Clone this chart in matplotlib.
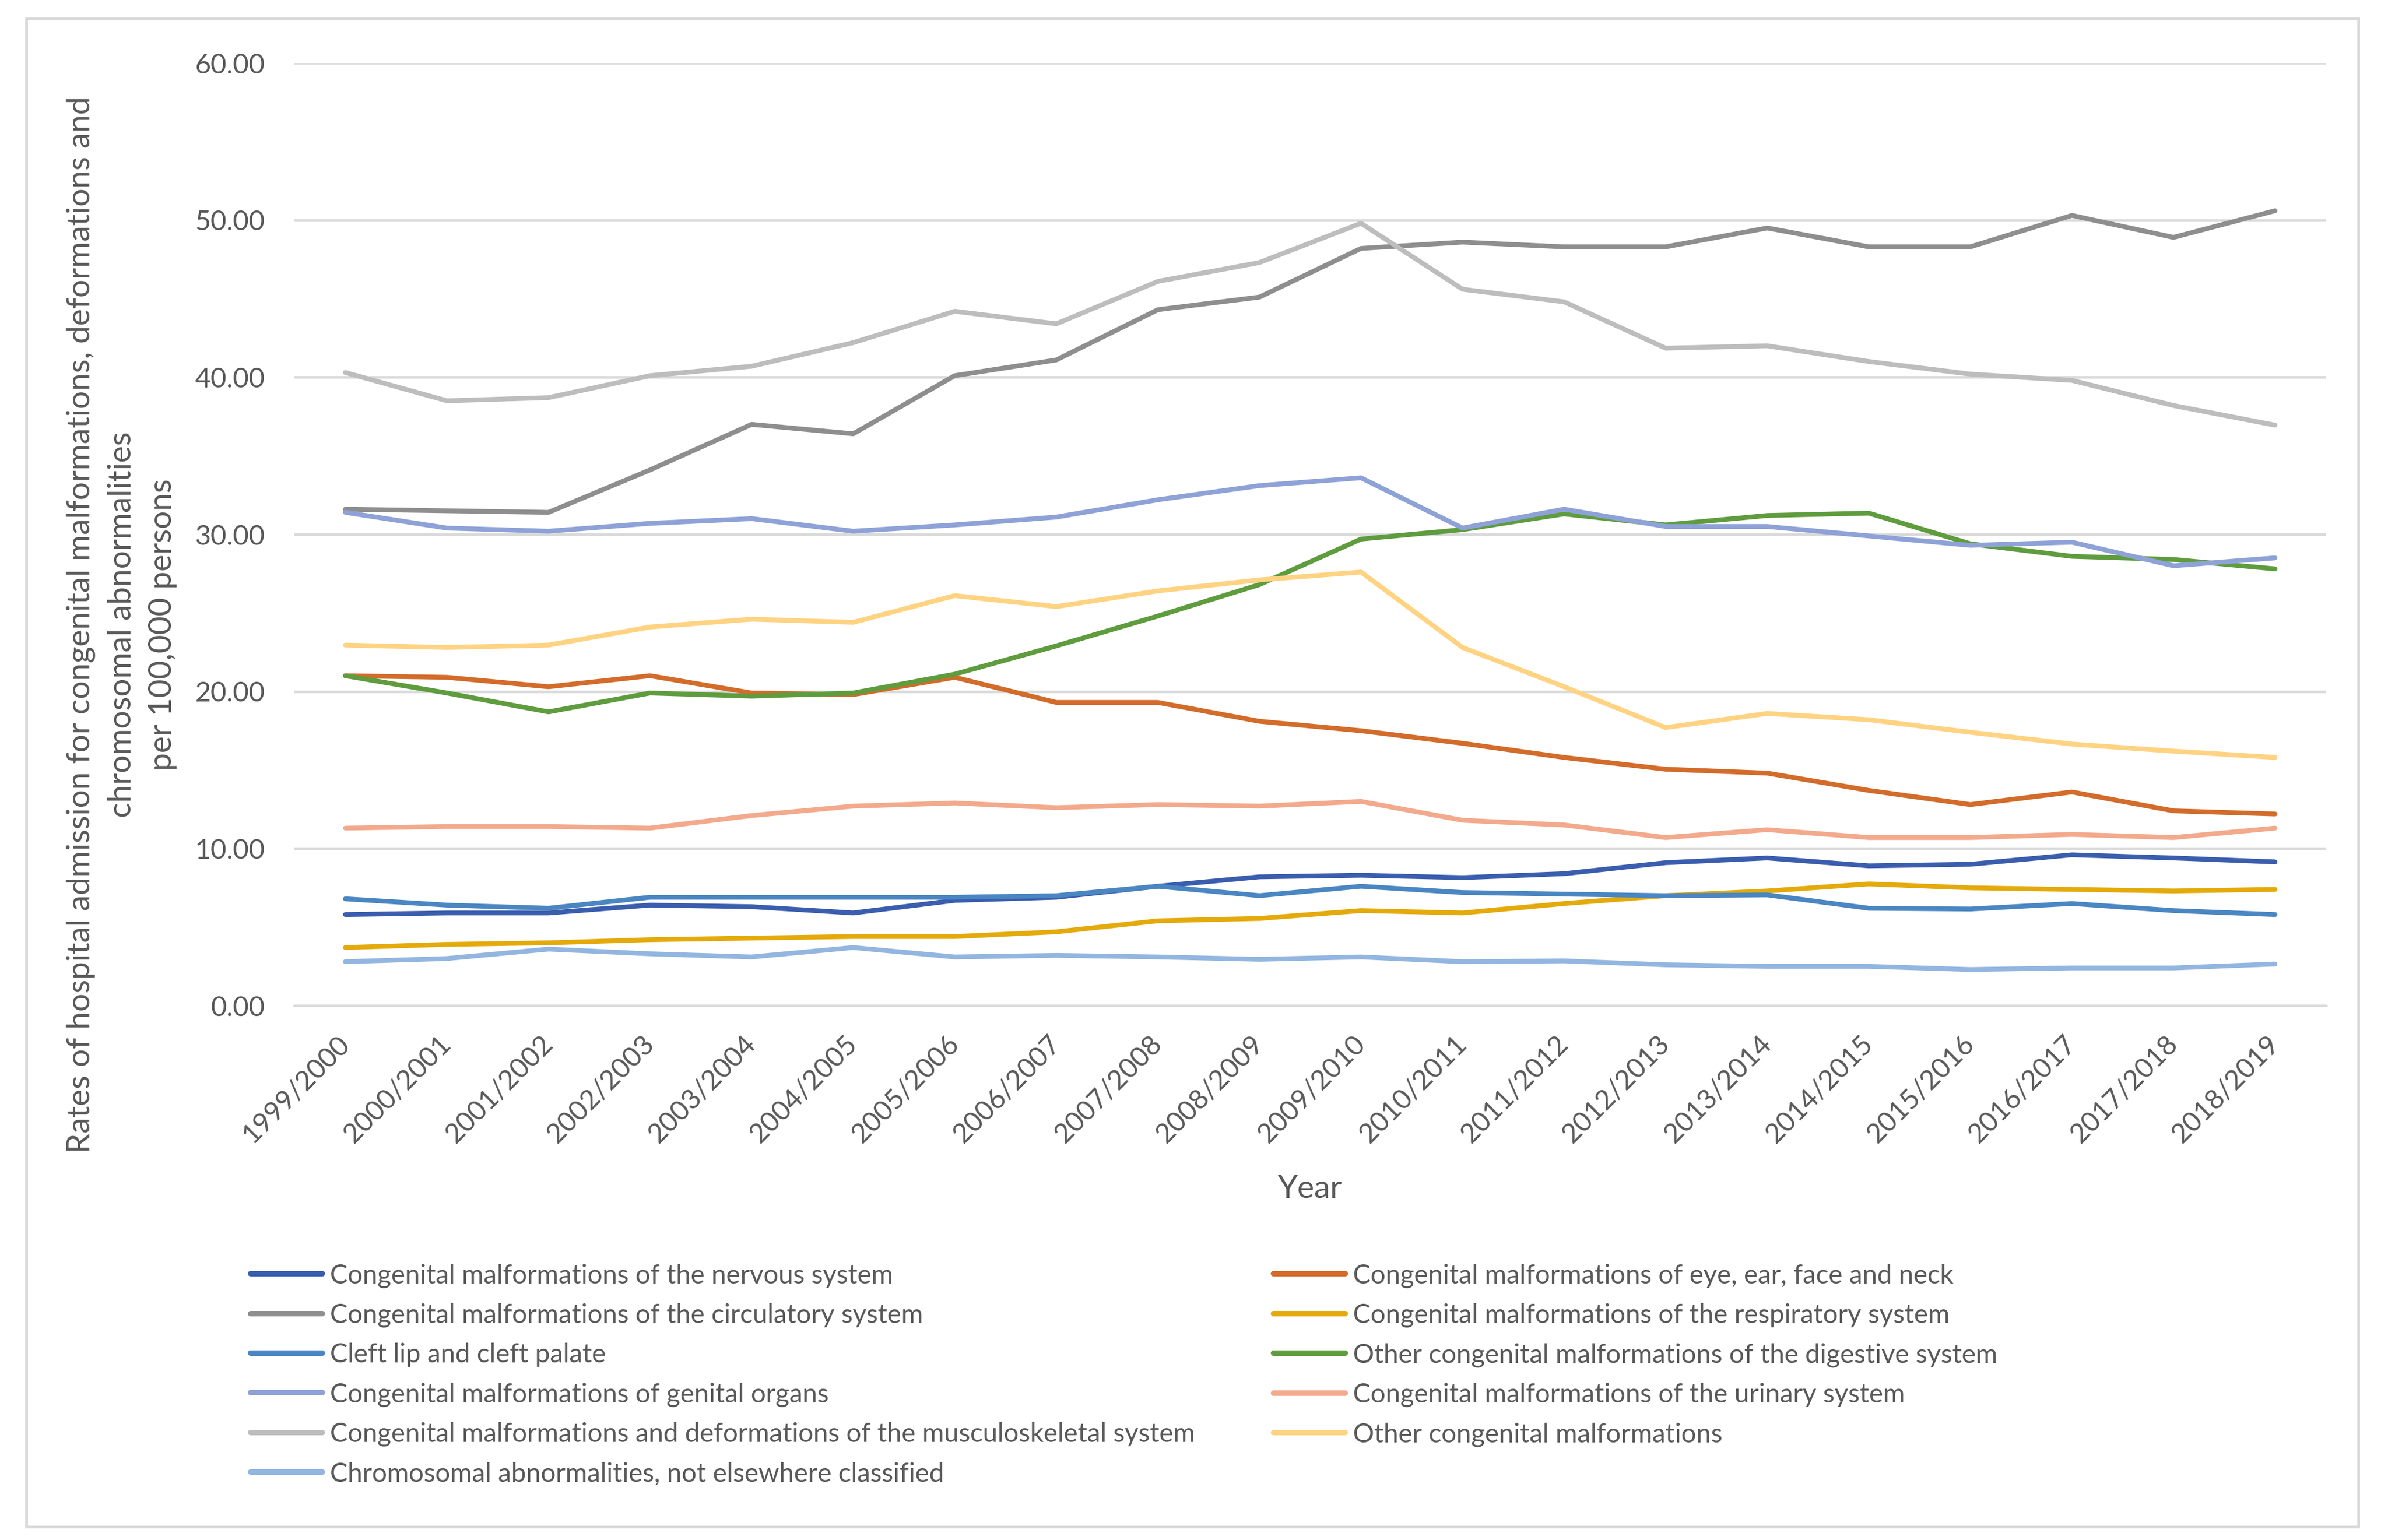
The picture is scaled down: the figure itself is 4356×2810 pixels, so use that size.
import matplotlib
matplotlib.use("Agg")
import matplotlib.pyplot as plt
from matplotlib.patches import Rectangle

plt.rcParams['font.family'] = ['Lato', 'DejaVu Sans']

# anos (eje x)
years = ['1999/2000', '2000/2001', '2001/2002', '2002/2003', '2003/2004',
         '2004/2005', '2005/2006', '2006/2007', '2007/2008', '2008/2009',
         '2009/2010', '2010/2011', '2011/2012', '2012/2013', '2013/2014',
         '2014/2015', '2015/2016', '2016/2017', '2017/2018', '2018/2019']

# tasas por 100.000 personas
nervous = [5.8, 5.9, 5.9, 6.4, 6.3, 5.9, 6.7, 6.9, 7.6, 8.2,
           8.3, 8.15, 8.4, 9.1, 9.4, 8.9, 9.0, 9.6, 9.4, 9.15]
eye = [21.0, 20.9, 20.3, 21.0, 19.9, 19.8, 20.9, 19.3, 19.3, 18.1,
       17.5, 16.7, 15.8, 15.05, 14.8, 13.7, 12.8, 13.6, 12.4, 12.2]
circulatory = [31.6, 31.5, 31.4, 34.1, 37.0, 36.4, 40.1, 41.1, 44.3, 45.1,
               48.2, 48.6, 48.3, 48.3, 49.5, 48.3, 48.3, 50.3, 48.9, 50.6]
respiratory = [3.7, 3.9, 4.0, 4.2, 4.3, 4.4, 4.4, 4.7, 5.4, 5.55,
               6.05, 5.9, 6.5, 7.0, 7.3, 7.75, 7.5, 7.4, 7.3, 7.4]
cleft = [6.8, 6.4, 6.2, 6.9, 6.9, 6.9, 6.9, 7.0, 7.6, 7.0,
         7.6, 7.2, 7.1, 7.0, 7.05, 6.2, 6.15, 6.5, 6.05, 5.8]
digestive = [21.0, 19.9, 18.7, 19.9, 19.7, 19.9, 21.1, 22.9, 24.8, 26.8,
             29.7, 30.3, 31.3, 30.6, 31.2, 31.35, 29.4, 28.6, 28.4, 27.8]
genital = [31.4, 30.4, 30.2, 30.7, 31.0, 30.2, 30.6, 31.1, 32.2, 33.1,
           33.6, 30.4, 31.6, 30.5, 30.5, 29.9, 29.3, 29.5, 28.0, 28.5]
urinary = [11.3, 11.4, 11.4, 11.3, 12.1, 12.7, 12.9, 12.6, 12.8, 12.7,
           13.0, 11.8, 11.5, 10.7, 11.2, 10.7, 10.7, 10.9, 10.7, 11.3]
musculo = [40.3, 38.5, 38.7, 40.1, 40.7, 42.2, 44.2, 43.4, 46.1, 47.3,
           49.8, 45.6, 44.8, 41.85, 42.0, 41.0, 40.2, 39.8, 38.2, 36.95]
other = [22.95, 22.8, 22.95, 24.1, 24.6, 24.4, 26.1, 25.4, 26.4, 27.1,
         27.6, 22.8, 20.3, 17.7, 18.6, 18.2, 17.4, 16.65, 16.2, 15.8]
chromosomal = [2.8, 3.0, 3.6, 3.3, 3.1, 3.7, 3.1, 3.2, 3.1, 2.95,
               3.1, 2.8, 2.85, 2.6, 2.5, 2.5, 2.3, 2.4, 2.4, 2.65]

labels = ['Congenital malformations of the nervous system',
          'Congenital malformations of eye, ear, face and neck',
          'Congenital malformations of the circulatory system',
          'Congenital malformations of the respiratory system',
          'Cleft lip and cleft palate',
          'Other congenital malformations of the digestive system',
          'Congenital malformations of genital organs',
          'Congenital malformations of the urinary system',
          'Congenital malformations and deformations of the musculoskeletal system',
          'Other congenital malformations',
          'Chromosomal abnormalities, not elsewhere classified']

series = [nervous, eye, circulatory, respiratory, cleft, digestive,
          genital, urinary, musculo, other, chromosomal]

colores = ['#3A5DAE', '#D36B2A', '#8E8E8E', '#E4AA0A', '#4A86C2', '#5E9C3E',
           '#8EA2D8', '#F3A98C', '#BDBDBD', '#FFD382', '#92B6E0']

txt_color = '#595959'
grid_color = '#D9D9D9'
fs = 12        # ticks
fs_leg = 11.6  # leyenda
fs_tit = 14    # titulos de ejes

W, H = 4356, 2810
fig = plt.figure(figsize=(W / 300, H / 300), dpi=300)

# marco exterior
fig.patches.append(Rectangle((48 / W, 1 - 2786 / H), (4302 - 48) / W, (2786 - 34) / H,
                             transform=fig.transFigure, fill=False,
                             edgecolor=grid_color, linewidth=1.2))

ax = fig.add_axes([537.4 / W, 1 - 1835 / H, 3705.2 / W, (1835 - 115) / H])

x = list(range(len(years)))
lineas = []
for s, c, lab in zip(series, colores, labels):
    ln, = ax.plot(x, s, color=c, lw=2.1, label=lab,
                  solid_capstyle='round', solid_joinstyle='round')
    lineas.append(ln)

ax.set_xlim(-0.5, len(years) - 0.5)
ax.set_ylim(0, 60)
ax.set_yticks(range(0, 61, 10))
ax.set_yticklabels(['{:.2f}'.format(v) for v in range(0, 61, 10)])
ax.set_xticks(x)
ax.set_xticklabels(years, rotation=45, ha='right', va='center',
                   rotation_mode='anchor')

ax.tick_params(axis='both', length=0, labelsize=fs, labelcolor=txt_color)
ax.tick_params(axis='y', pad=13)
ax.tick_params(axis='x', pad=15)

ax.grid(axis='y', color=grid_color, lw=1.1)
ax.set_axisbelow(True)
for sp in ['top', 'right', 'left']:
    ax.spines[sp].set_visible(False)
ax.spines['bottom'].set_color(grid_color)
ax.spines['bottom'].set_linewidth(1.1)

fig.text(2390 / W, 1 - 2170 / H, 'Year', ha='center', va='center',
         fontsize=fs_tit, color=txt_color)

fig.text(222 / W, 1 - 1140 / H,
         'Rates of hospital admission for congenital malformations, deformations and\n'
         'chromosomal abnormalities\nper 100,000 persons',
         rotation=90, ha='center', va='center', multialignment='center',
         fontsize=fs_tit, color=txt_color, linespacing=1.5)

# leyenda en dos columnas, en orden por filas
col1 = [0, 2, 4, 6, 8, 10]
col2 = [1, 3, 5, 7, 9]
legkw = dict(frameon=False, fontsize=fs_leg, labelcolor=txt_color, borderpad=0,
             handlelength=2.7, handletextpad=0.3, labelspacing=0.58,
             loc='upper left', borderaxespad=0)
leg1 = fig.legend([lineas[i] for i in col1], [labels[i] for i in col1],
                  bbox_to_anchor=(457 / W, 1 - 2305 / H), **legkw)
leg2 = fig.legend([lineas[i] for i in col2], [labels[i] for i in col2],
                  bbox_to_anchor=(2323 / W, 1 - 2305 / H), **legkw)
for lg in (leg1, leg2):
    for h in lg.legend_handles:
        h.set_linewidth(2.4)

fig.savefig('out.png', dpi=300, facecolor='white')
